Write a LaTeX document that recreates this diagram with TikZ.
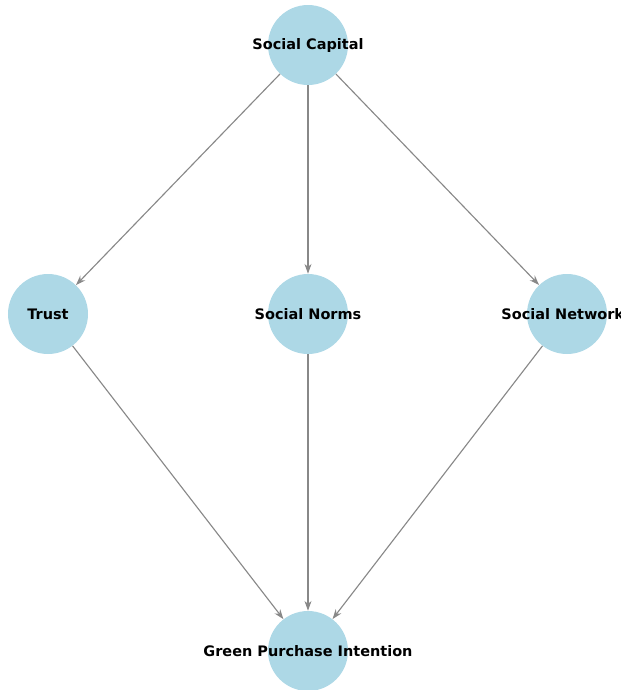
\documentclass[tikz,border=0pt]{standalone}
\usepackage{fontspec}
\setmainfont{DejaVu Sans}
\usetikzlibrary{arrows.meta,positioning}
\definecolor{nodeblue}{HTML}{ADD8E6}
\definecolor{edgegray}{HTML}{888888}

\begin{document}
\begin{tikzpicture}[
  factor/.style={circle, fill=nodeblue, minimum size=2cm, inner sep=0pt},
  caption/.style={font=\fontsize{10.3}{12}\selectfont\bfseries, inner sep=0pt},
  link/.style={-{Stealth[length=7pt,width=5pt]}, line width=0.8pt, color=edgegray},
  >=Stealth
]
  \useasboundingbox (0,0) rectangle (15.525,-17.25);
  \clip (0,0) rectangle (15.525,-17.25);

  % Source (top)
  \node[factor] (capital) at (7.7,-1.125) {};

  % Dimensions (middle row)
  \node[factor] (trust) at (1.2,-7.85) {};
  \node[factor] (norms) at (7.7,-7.85) {};
  \node[factor] (network) at (14.175,-7.85) {};

  % Outcome (bottom)
  \node[factor] (intention) at (7.7,-16.275) {};

  % Names, wider than the circles
  \node[caption] (capitaltext) at (capital) {Social Capital};
  \node[caption] (trusttext) at (trust) {Trust};
  \node[caption] (normstext) at (norms) {Social Norms};
  \node[caption, xshift=-3pt] (networktext) at (network) {Social Network};
  \node[caption] (intentiontext) at (intention) {Green Purchase Intention};

  % Capital to dimensions
  \draw[link] (capital) -- (trust);
  \draw[link] (capital) -- (norms);
  \draw[link] (capital) -- (network);

  % Dimensions to intention
  \draw[link] (trust) -- (intention);
  \draw[link] (norms) -- (intention);
  \draw[link] (network) -- (intention);
\end{tikzpicture}
\end{document}
